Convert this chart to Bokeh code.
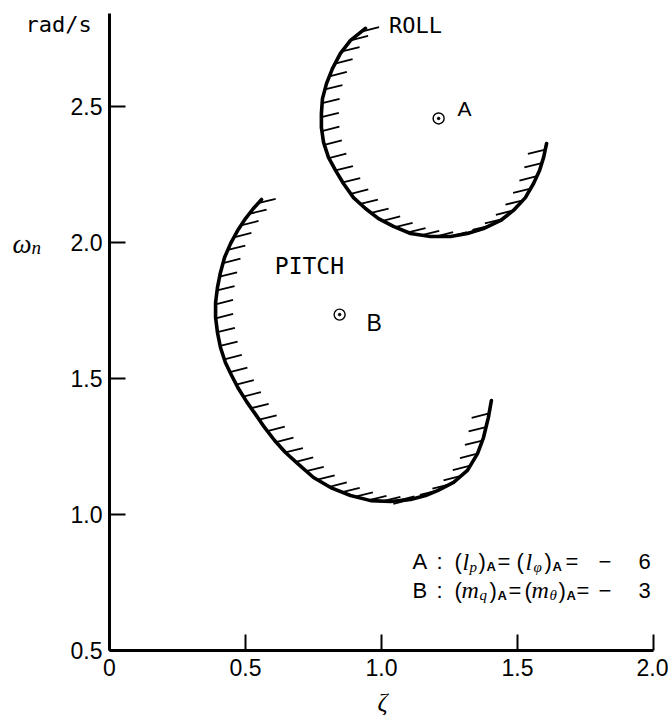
import numpy as np
from bokeh.plotting import figure
from bokeh.models import Label, FixedTicker, Range1d
from bokeh.embed import file_html
from bokeh.resources import INLINE

# ---- data -------------------------------------------------------------
# ROLL boundary (damping ratio zeta, natural frequency omega_n in rad/s)
roll_zeta = [0.941, 0.886, 0.849, 0.820, 0.798, 0.783, 0.779, 0.779, 0.787,
             0.805, 0.831, 0.860, 0.897, 0.941, 0.989, 1.044, 1.107, 1.180,
             1.254, 1.316, 1.375, 1.438, 1.485, 1.529, 1.559, 1.581, 1.596, 1.607]
roll_omega = [2.787, 2.743, 2.695, 2.640, 2.585, 2.529, 2.474, 2.423, 2.368,
              2.313, 2.265, 2.217, 2.165, 2.125, 2.088, 2.059, 2.033, 2.022,
              2.022, 2.033, 2.051, 2.081, 2.118, 2.165, 2.217, 2.265, 2.313, 2.364]

# PITCH boundary
pitch_zeta = [0.559, 0.529, 0.500, 0.471, 0.445, 0.423, 0.408, 0.397, 0.390,
              0.390, 0.397, 0.408, 0.426, 0.449, 0.474, 0.504, 0.537, 0.570,
              0.607, 0.647, 0.691, 0.750, 0.813, 0.886, 0.960, 1.033, 1.107,
              1.162, 1.206, 1.265, 1.316, 1.353, 1.375, 1.393, 1.404]
pitch_omega = [2.158, 2.125, 2.088, 2.044, 1.996, 1.945, 1.890, 1.835, 1.779,
               1.724, 1.669, 1.614, 1.559, 1.511, 1.463, 1.415, 1.368, 1.320,
               1.272, 1.228, 1.188, 1.136, 1.099, 1.070, 1.051, 1.048, 1.055,
               1.070, 1.088, 1.118, 1.162, 1.224, 1.283, 1.357, 1.419]

# reference points A and B
point_names = ["A", "B"]
point_zeta = [1.210, 0.846]
point_omega = [2.456, 1.735]

x_ticks = [0, 0.5, 1.0, 1.5, 2.0]
x_tick_labels = ["0", "0.5", "1.0", "1.5", "2.0"]
y_ticks = [0.5, 1.0, 1.5, 2.0, 2.5]
y_tick_labels = ["0.5", "1.0", "1.5", "2.0", "2.5"]
x_axis_span = (0.0, 2.0)
y_axis_span = (0.5, 2.842)

# ---- layout -----------------------------------------------------------
# The frame fills the whole canvas; the axes are pinned at zeta=0 and
# omega_n=0.5 so that titles and notes can sit anywhere on the page.
W, H = 668, 715
SCALE = 272.0                       # px per unit on both axes
XS = x_axis_span[0] - 109 / SCALE
YS = y_axis_span[0] - 65 / SCALE

TICK_FONT = "Liberation Sans"

p = figure(width=W, height=H,
           x_range=Range1d(XS, XS + W / SCALE), y_range=Range1d(YS, YS + H / SCALE),
           output_backend="svg", toolbar_location=None,
           min_border_left=0, min_border_right=0, min_border_top=0, min_border_bottom=0)
p.outline_line_color = None
p.xgrid.visible = False
p.ygrid.visible = False
p.background_fill_color = "white"
p.border_fill_color = "white"

for ax, ticks, labels, span, loc in ((p.xaxis[0], x_ticks, x_tick_labels, x_axis_span, y_axis_span[0]),
                                     (p.yaxis[0], y_ticks, y_tick_labels, y_axis_span, x_axis_span[0])):
    ax.fixed_location = loc
    ax.bounds = span
    ax.ticker = FixedTicker(ticks=ticks)
    ax.major_label_overrides = {t: s for t, s in zip(ticks, labels)}
    ax.axis_line_width = 3
    ax.axis_line_color = "black"
    ax.major_tick_in = 16
    ax.major_tick_out = 0
    ax.major_tick_line_width = 2
    ax.major_tick_line_color = "black"
    ax.minor_tick_line_color = None
    ax.major_label_text_font = TICK_FONT
    ax.major_label_text_font_size = "23px"
    ax.major_label_text_color = "black"
p.xaxis.major_label_standoff = 8
p.yaxis.major_label_standoff = 7


# ---- hatched boundaries -------------------------------------------------
def hatch_segments(xs, ys, spacing=14.0, length=18.0, angle=14.0, start=5.0):
    """Short parallel strokes on the concave side of a traced boundary."""
    x = np.asarray(xs) * SCALE
    y = np.asarray(ys) * SCALE
    dx, dy = np.diff(x), np.diff(y)
    seg = np.hypot(dx, dy)
    cum = np.concatenate([[0.0], np.cumsum(seg)])
    d = np.array([np.cos(np.radians(angle)), np.sin(np.radians(angle))])
    x0s, y0s, x1s, y1s = [], [], [], []
    s = start
    while s <= cum[-1] - 2:
        i = min(np.searchsorted(cum, s, side="right") - 1, len(seg) - 1)
        t = (s - cum[i]) / seg[i]
        px, py = x[i] + t * dx[i], y[i] + t * dy[i]
        tx, ty = dx[i] / seg[i], dy[i] / seg[i]
        nx, ny = -ty, tx
        if nx * d[0] + ny * d[1] >= 0:
            a = (px, py)
            b = (px + length * d[0], py + length * d[1])
        else:
            a = (px - length * d[0], py - length * d[1])
            b = (px, py)
        x0s.append(a[0] / SCALE); y0s.append(a[1] / SCALE)
        x1s.append(b[0] / SCALE); y1s.append(b[1] / SCALE)
        s += spacing
    return x0s, y0s, x1s, y1s


for zs, ws in ((roll_zeta, roll_omega), (pitch_zeta, pitch_omega)):
    hx0, hy0, hx1, hy1 = hatch_segments(zs, ws)
    p.segment(hx0, hy0, hx1, hy1, line_color="black", line_width=1.8)
    p.line(zs, ws, line_color="black", line_width=3.6,
           line_cap="round", line_join="round")

# reference points: small circle with centre dot
p.scatter(point_zeta, point_omega, marker="circle", size=11,
          fill_color=None, line_color="black", line_width=1.4)
p.scatter(point_zeta, point_omega, marker="circle", size=2.5,
          fill_color="black", line_color="black")


def label(x, y, text, font="Liberation Sans", size=21, style="normal",
          align="left", baseline="alphabetic", dx=0, dy=0):
    p.add_layout(Label(x=x, y=y, text=text, text_font=font,
                       text_font_size=f"{size}px", text_font_style=style,
                       text_align=align, text_baseline=baseline,
                       text_color="black", x_offset=dx, y_offset=dy))


MONO = "DejaVu Sans Mono"
SERIF = "Liberation Serif"

label(1.125, 2.798, "ROLL", font=MONO, size=22, align="center", baseline="middle")
label(0.735, 1.912, "PITCH", font=MONO, size=23, align="center", baseline="middle")
label(point_zeta[0], point_omega[0], point_names[0], size=21,
      baseline="middle", dx=19, dy=10)
label(point_zeta[1], point_omega[1], point_names[1], size=23,
      baseline="middle", dx=27, dy=-8)

# axis titles
label(-0.309, 2.80, "rad/s", font=MONO, size=22)
label(-0.357, 1.996, "ω", font=SERIF, size=27, style="italic", baseline="middle")
label(-0.287, 1.982, "n", font=SERIF, size=19, style="italic", baseline="middle")
label(1.004, 0.309, "ζ", font=SERIF, size=25, style="italic", align="center",
      baseline="middle")

# stability-derivative notes
NOTE_X = 1.114


def note(y, pieces):
    for text, dx, kind in pieces:
        if kind == "up":
            label(NOTE_X, y, text, size=22, dx=dx)
        elif kind == "it":
            label(NOTE_X, y, text, font=SERIF, size=24, style="italic", dx=dx)
        elif kind == "sub":
            label(NOTE_X, y, text, font=SERIF, size=15, style="italic", dx=dx, dy=-5)
        else:  # bold subscript
            label(NOTE_X, y, text, size=13, style="bold", dx=dx, dy=-5)


note(0.827, [("A", 0, "up"), (":", 24, "up"), ("(", 42, "up"), ("l", 50, "it"),
             ("p", 57, "sub"), (")", 66, "up"), ("A", 74, "bsub"), ("=", 85, "up"),
             ("(", 104, "up"), ("l", 113, "it"), ("φ", 121, "sub"), (")", 132, "up"),
             ("A", 140, "bsub"), ("=", 153, "up"), ("−", 186, "up"), ("6", 226, "up")])
note(0.722, [("B", 0, "up"), (":", 24, "up"), ("(", 42, "up"), ("m", 49, "it"),
             ("q", 67, "sub"), (")", 77, "up"), ("A", 85, "bsub"), ("=", 96, "up"),
             ("(", 112, "up"), ("m", 119, "it"), ("θ", 137, "sub"), (")", 146, "up"),
             ("A", 154, "bsub"), ("=", 164, "up"), ("−", 186, "up"), ("3", 226, "up")])

open("out.html", "w").write(file_html(p, INLINE))
